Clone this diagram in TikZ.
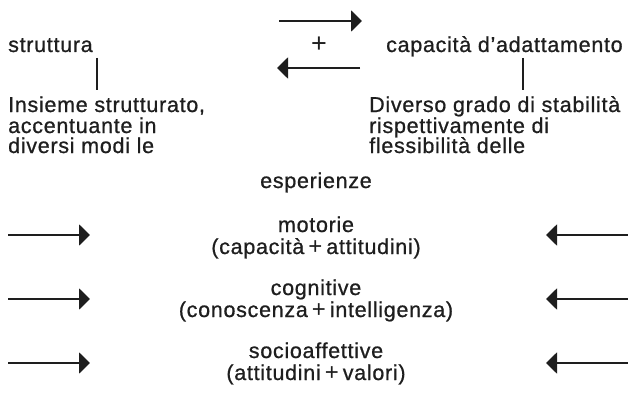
\documentclass[tikz,border=0pt]{standalone}
\usepackage{fontspec}
\setmainfont{Liberation Sans}[LetterSpace=3.3,FakeBold=0.8]
\newfontfamily\plusfont{Liberation Sans}
\usetikzlibrary{arrows.meta}
\definecolor{ink}{HTML}{1E1E1E}
\newcommand{\bigplus}{{\plusfont\fontsize{24}{22}\selectfont\,+\,}}
\begin{document}
\begin{tikzpicture}[x=1pt,y=-1pt,
  txt/.style={inner sep=0pt, text=ink, font=\fontsize{21.5}{22}\selectfont},
  lw/.style={txt, anchor=base west},
  ctr/.style={txt, anchor=base},
  pair/.style={txt, align=center, anchor=base},
  arr/.style={draw=ink, line width=2pt, -{Triangle[length=11pt,width=21pt]}},
  stem/.style={draw=ink, line width=1.5pt}]
\useasboundingbox (0,0) rectangle (628,417);
% top row
\node[lw] (strut) at (8,52) {struttura};
\node[lw] (adapt) at (386,52) {capacità d’adattamento};
\node[txt, font=\plusfont\fontsize{27}{27}\selectfont] (plus) at (319,45) {+};
\coordinate (ta1) at (279,21);
\coordinate (ta2) at (362,21);
\coordinate (ba1) at (360,68);
\coordinate (ba2) at (277,68);
\draw[arr] (ta1) -- (ta2);
\draw[arr] (ba1) -- (ba2);
% stems
\coordinate (ls1) at (97,58);
\coordinate (ls2) at (97,90);
\coordinate (rs1) at (523,58);
\coordinate (rs2) at (523,90);
\draw[stem] (ls1) -- (ls2);
\draw[stem] (rs1) -- (rs2);
% left text
\node[lw] (l1) at (8,112) {Insieme strutturato,};
\node[lw] (l2) at (8,133) {accentuante in};
\node[lw] (l3) at (8,153) {diversi modi le};
% right text
\node[lw] (r1) at (369,112) {Diverso grado di stabilità};
\node[lw] (r2) at (369,133) {rispettivamente di};
\node[lw] (r3) at (369,153) {flessibilità delle};
% center
\node[ctr] (esp) at (316,188) {esperienze};
\node[pair] (mot) at (316,254) {motorie\\(capacità\bigplus attitudini)};
\node[pair] (cog) at (316,317) {cognitive\\(conoscenza\bigplus intelligenza)};
\node[pair] (soc) at (316,380) {socioaffettive\\(attitudini\bigplus valori)};
% side arrows
\foreach \y/\n in {235/a,299/b,363/c}{
  \coordinate (L\n1) at (8,\y);
  \coordinate (L\n2) at (90,\y);
  \coordinate (R\n1) at (628,\y);
  \coordinate (R\n2) at (546,\y);
  \draw[arr] (L\n1) -- (L\n2);
  \draw[arr] (R\n1) -- (R\n2);
}
\end{tikzpicture}
\end{document}
